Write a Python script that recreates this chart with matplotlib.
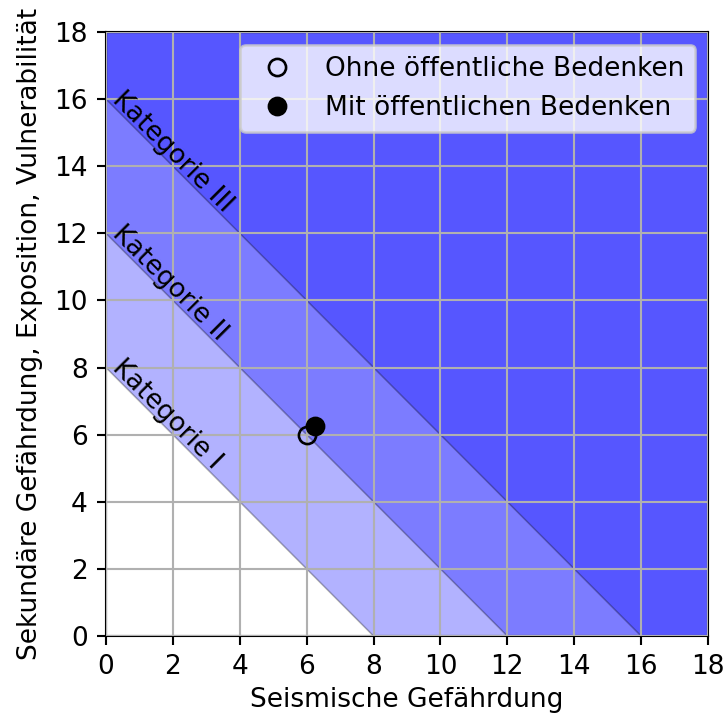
import numpy as np
import matplotlib.pyplot as plt

# grenzen der kategorien (x + y = grenze)
grenzen = [8, 12, 16]
kategorien = ['Kategorie I', 'Kategorie II', 'Kategorie III']

# punkte
ohne_x, ohne_y = [6.0], [6.0]
mit_x, mit_y = [6.25], [6.25]

dpi = 190
fig = plt.figure(figsize=(725 / dpi, 715 / dpi), dpi=dpi)
ax = fig.add_axes([106 / 725, 1 - 636 / 715, 602 / 725, 604 / 715])

x = np.linspace(0, 18, 200)
for g in grenzen:
    ax.fill_between(x, g - x, 18, facecolor='blue', edgecolor='black',
                    alpha=0.3, linewidth=0.6)

for g, k in zip(grenzen, kategorien):
    ax.text(0.15, g - 0.05, k, rotation=-45, rotation_mode='anchor',
            ha='left', va='baseline')

ax.plot(ohne_x, ohne_y, 'o', mfc='none', mec='black', ms=6.5,
        label='Ohne öffentliche Bedenken', zorder=5)
ax.plot(mit_x, mit_y, 'o', color='black', ms=6.5,
        label='Mit öffentlichen Bedenken', zorder=5)

ax.set_xlim(0, 18)
ax.set_ylim(0, 18)
ax.set_xticks(range(0, 19, 2))
ax.set_yticks(range(0, 19, 2))
ax.grid(True)
ax.set_axisbelow(False)
ax.set_xlabel('Seismische Gefährdung', labelpad=2.5)
ax.set_ylabel('Sekundäre Gefährdung, Exposition, Vulnerabilität')
ax.legend(loc='upper right')

plt.savefig('out.png', dpi=dpi)
